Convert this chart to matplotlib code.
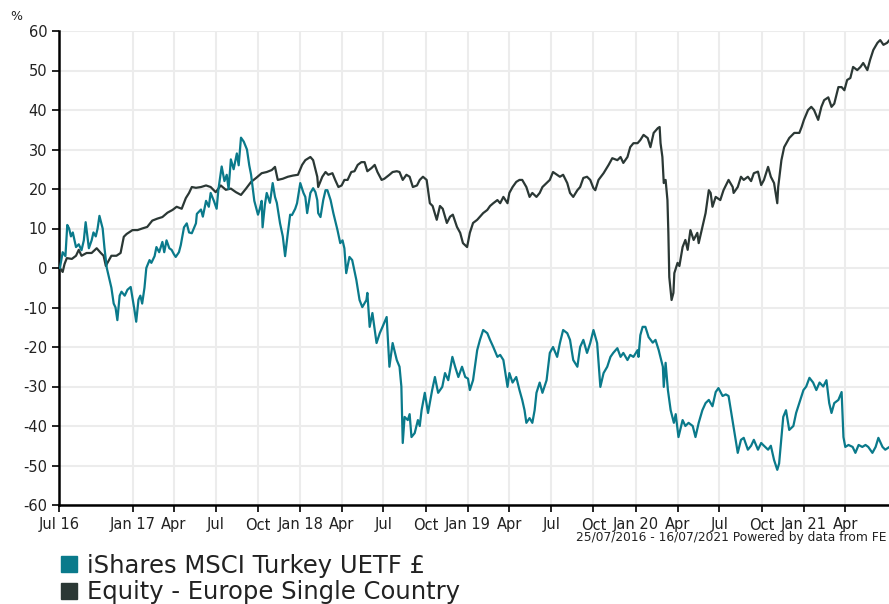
import pandas as pd
import numpy as np
import matplotlib
matplotlib.use('Agg')
import matplotlib.pyplot as plt
from matplotlib.lines import Line2D

plt.rcParams['axes.unicode_minus'] = False

# iShares MSCI Turkey UETF £ (cumulative % change)
turkey_dates = [
    "2016-07-27", "2016-08-02", "2016-08-08", "2016-08-12", "2016-08-16", "2016-08-20", "2016-08-24", "2016-08-31",
    "2016-09-06", "2016-09-12", "2016-09-17", "2016-09-21", "2016-09-28", "2016-10-04", "2016-10-08", "2016-10-13",
    "2016-10-17", "2016-10-21", "2016-10-28", "2016-11-01", "2016-11-06", "2016-11-12", "2016-11-16", "2016-11-21",
    "2016-11-25", "2016-11-29", "2016-12-04", "2016-12-08", "2016-12-15", "2016-12-21", "2016-12-28", "2017-01-03",
    "2017-01-05", "2017-01-09", "2017-01-14", "2017-01-18", "2017-01-22", "2017-01-27", "2017-01-31", "2017-02-07",
    "2017-02-11", "2017-02-18", "2017-02-22", "2017-02-28", "2017-03-07", "2017-03-11", "2017-03-16", "2017-03-22",
    "2017-03-27", "2017-04-01", "2017-04-05", "2017-04-12", "2017-04-16", "2017-04-23", "2017-04-29", "2017-05-04",
    "2017-05-10", "2017-05-19", "2017-05-21", "2017-05-30", "2017-06-03", "2017-06-10", "2017-06-16", "2017-06-20",
    "2017-06-27", "2017-07-03", "2017-07-07", "2017-07-14", "2017-07-20", "2017-07-25", "2017-07-29", "2017-08-03",
    "2017-08-09", "2017-08-16", "2017-08-20", "2017-08-25", "2017-08-31", "2017-09-07", "2017-09-12", "2017-09-16",
    "2017-09-23", "2017-10-01", "2017-10-05", "2017-10-09", "2017-10-11", "2017-10-16", "2017-10-20", "2017-10-27",
    "2017-11-02", "2017-11-07", "2017-11-11", "2017-11-18", "2017-11-24", "2017-11-29", "2017-12-05", "2017-12-10",
    "2017-12-14", "2017-12-21", "2017-12-25", "2018-01-01", "2018-01-08", "2018-01-12", "2018-01-16", "2018-01-23",
    "2018-01-29", "2018-02-03", "2018-02-07", "2018-02-09", "2018-02-14", "2018-02-20", "2018-02-25", "2018-03-01",
    "2018-03-08", "2018-03-14", "2018-03-23", "2018-03-29", "2018-04-03", "2018-04-07", "2018-04-11", "2018-04-18",
    "2018-04-24", "2018-05-03", "2018-05-10", "2018-05-16", "2018-05-25", "2018-05-27", "2018-06-01", "2018-06-07",
    "2018-06-16", "2018-06-23", "2018-06-29", "2018-07-08", "2018-07-14", "2018-07-21", "2018-07-30", "2018-08-05",
    "2018-08-09", "2018-08-12", "2018-08-16", "2018-08-23", "2018-08-27", "2018-08-31", "2018-09-07", "2018-09-14",
    "2018-09-18", "2018-09-22", "2018-09-29", "2018-10-06", "2018-10-15", "2018-10-21", "2018-10-28", "2018-11-06",
    "2018-11-12", "2018-11-19", "2018-11-28", "2018-12-04", "2018-12-11", "2018-12-19", "2018-12-26", "2019-01-01",
    "2019-01-05", "2019-01-12", "2019-01-21", "2019-01-27", "2019-02-03", "2019-02-12", "2019-02-18", "2019-02-25",
    "2019-03-06", "2019-03-12", "2019-03-19", "2019-03-28", "2019-04-01", "2019-04-08", "2019-04-16", "2019-04-23",
    "2019-04-29", "2019-05-04", "2019-05-08", "2019-05-15", "2019-05-21", "2019-05-26", "2019-05-30", "2019-06-06",
    "2019-06-12", "2019-06-21", "2019-06-28", "2019-07-05", "2019-07-14", "2019-07-20", "2019-07-27", "2019-08-05",
    "2019-08-11", "2019-08-18", "2019-08-27", "2019-09-02", "2019-09-09", "2019-09-17", "2019-09-24", "2019-10-01",
    "2019-10-09", "2019-10-16", "2019-10-23", "2019-10-31", "2019-11-07", "2019-11-13", "2019-11-22", "2019-11-29",
    "2019-12-05", "2019-12-14", "2019-12-20", "2019-12-27", "2020-01-05", "2020-01-07", "2020-01-11", "2020-01-16",
    "2020-01-22", "2020-01-29", "2020-02-07", "2020-02-13", "2020-02-20", "2020-02-29", "2020-03-02", "2020-03-06",
    "2020-03-11", "2020-03-17", "2020-03-24", "2020-03-28", "2020-04-03", "2020-04-12", "2020-04-18", "2020-04-25",
    "2020-05-04", "2020-05-10", "2020-05-17", "2020-05-25", "2020-06-01", "2020-06-08", "2020-06-16", "2020-06-23",
    "2020-06-29", "2020-07-08", "2020-07-15", "2020-07-21", "2020-07-26", "2020-08-01", "2020-08-06", "2020-08-10",
    "2020-08-17", "2020-08-23", "2020-09-01", "2020-09-08", "2020-09-14", "2020-09-23", "2020-09-30", "2020-10-06",
    "2020-10-15", "2020-10-21", "2020-10-28", "2020-11-04", "2020-11-08", "2020-11-17", "2020-11-23", "2020-11-30",
    "2020-12-09", "2020-12-15", "2020-12-22", "2020-12-31", "2021-01-06", "2021-01-13", "2021-01-21", "2021-01-28",
    "2021-02-04", "2021-02-12", "2021-02-19", "2021-02-25", "2021-03-02", "2021-03-08", "2021-03-17", "2021-03-24",
    "2021-03-28", "2021-04-01", "2021-04-08", "2021-04-17", "2021-04-23", "2021-04-30", "2021-05-08", "2021-05-15",
    "2021-05-21", "2021-05-30", "2021-06-06", "2021-06-12", "2021-06-21", "2021-06-27", "2021-07-06", "2021-07-16",
]
turkey_values = [
    0, 4, 3, 10.9, 10, 8, 9, 5.3,
    6, 4.5, 7, 11.6, 5, 7, 9, 8,
    10, 13.2, 10, 5, 0, -3, -5, -9,
    -10, -13.2, -7, -6, -7, -5.5, -4.8, -9,
    -10.5, -13.6, -8, -7, -9, -5, 0, 2,
    1.3, 3, 5.3, 4, 6.6, 4, 7, 5,
    4.6, 3.5, 2.8, 4, 5.8, 10.3, 11.3, 9,
    8.8, 11.3, 13.7, 14.8, 13, 17, 15.5, 19,
    17, 15, 20, 25.7, 22, 23.6, 20, 27.5,
    25, 29, 26, 33, 32, 30, 26, 23.6,
    17, 13.5, 15, 17, 10.3, 16, 19, 16.5,
    21.5, 18, 16.5, 11.3, 8, 3, 8.9, 13.5,
    13.4, 15, 16.4, 21.5, 19, 18, 13.9, 19,
    20.2, 19.2, 17.2, 13.9, 12.9, 17.2, 19.7, 19.7,
    17.2, 13.9, 9.6, 6.3, 7, 5, -1.3, 2.8,
    2, -3, -8.1, -9.9, -8.1, -6.3, -14.9, -11.4,
    -19, -16.5, -14.9, -12.4, -25, -19, -23.3, -25,
    -30, -44.3, -37.7, -38.5, -37, -42.8, -41.8, -38.5,
    -40, -36, -31.6, -36.7, -30.9, -27.6, -31.6, -30.1,
    -26.6, -28.4, -22.5, -25, -27.6, -25, -27.6, -28,
    -30.9, -28.4, -20.8, -18.2, -15.7, -16.5, -18.2, -20,
    -22.5, -22, -23.3, -30.1, -26.6, -29, -27.6, -30.9,
    -33.4, -36, -39.2, -38, -39.2, -36, -31.6, -29,
    -31.6, -28.4, -21.5, -20, -22.5, -19, -15.7, -16.5,
    -18.2, -23.3, -25, -20, -18.2, -21.5, -19, -15.7,
    -19, -30.1, -26.6, -25, -22.5, -21.5, -20.3, -22.5,
    -21.5, -23.3, -22, -22.5, -20.8, -22.5, -17, -14.9,
    -14.9, -17.5, -18.9, -18.2, -20.8, -25, -30.1, -24,
    -30.9, -36, -39.2, -37, -42.8, -38.5, -40, -39.2,
    -40, -42.8, -39.2, -36, -34.2, -33.4, -35, -31.4,
    -30.4, -32.4, -32, -32.4, -36, -40.3, -44, -46.8,
    -43.5, -43, -46, -45, -43.5, -46, -44.3, -45,
    -46, -45, -48.6, -51.1, -49.5, -37.7, -36, -41,
    -40, -36.7, -34.2, -30.9, -30, -27.8, -29, -30.9,
    -29, -30, -28.4, -34.2, -36.7, -34.2, -33.4, -31.4,
    -42.8, -45.3, -44.8, -45.3, -46.8, -44.8, -45.3, -44.8,
    -45.3, -46.8, -45.3, -43, -45.3, -46, -45.3, -45,
]

# Equity - Europe Single Country sector average
sector_dates = [
    "2016-07-27", "2016-08-02", "2016-08-06", "2016-08-11", "2016-08-22", "2016-08-31", "2016-09-06", "2016-09-12",
    "2016-09-23", "2016-10-04", "2016-10-15", "2016-10-24", "2016-10-30", "2016-11-04", "2016-11-06", "2016-11-16",
    "2016-11-27", "2016-12-06", "2016-12-13", "2016-12-19", "2017-01-01", "2017-01-12", "2017-01-22", "2017-02-02",
    "2017-02-13", "2017-02-24", "2017-03-07", "2017-03-18", "2017-03-29", "2017-04-07", "2017-04-18", "2017-04-27",
    "2017-05-04", "2017-05-10", "2017-05-19", "2017-05-30", "2017-06-10", "2017-06-20", "2017-07-01", "2017-07-12",
    "2017-07-23", "2017-08-03", "2017-08-14", "2017-08-25", "2017-09-05", "2017-09-16", "2017-09-27", "2017-10-09",
    "2017-10-20", "2017-10-31", "2017-11-07", "2017-11-13", "2017-11-24", "2017-12-05", "2017-12-16", "2017-12-27",
    "2018-01-05", "2018-01-12", "2018-01-23", "2018-01-29", "2018-02-07", "2018-02-09", "2018-02-18", "2018-02-25",
    "2018-03-03", "2018-03-12", "2018-03-18", "2018-03-25", "2018-04-01", "2018-04-07", "2018-04-14", "2018-04-22",
    "2018-04-29", "2018-05-06", "2018-05-14", "2018-05-21", "2018-05-27", "2018-06-05", "2018-06-12", "2018-06-18",
    "2018-06-27", "2018-07-03", "2018-07-14", "2018-07-21", "2018-07-30", "2018-08-05", "2018-08-12", "2018-08-20",
    "2018-08-27", "2018-09-03", "2018-09-12", "2018-09-18", "2018-09-25", "2018-10-03", "2018-10-10", "2018-10-16",
    "2018-10-25", "2018-11-01", "2018-11-07", "2018-11-16", "2018-11-23", "2018-11-29", "2018-12-08", "2018-12-15",
    "2018-12-21", "2018-12-30", "2019-01-05", "2019-01-12", "2019-01-21", "2019-01-27", "2019-02-03", "2019-02-12",
    "2019-02-18", "2019-02-25", "2019-03-06", "2019-03-12", "2019-03-19", "2019-03-28", "2019-04-01", "2019-04-08",
    "2019-04-16", "2019-04-23", "2019-04-29", "2019-05-08", "2019-05-15", "2019-05-21", "2019-05-30", "2019-06-06",
    "2019-06-12", "2019-06-21", "2019-06-28", "2019-07-05", "2019-07-14", "2019-07-20", "2019-07-27", "2019-08-05",
    "2019-08-11", "2019-08-18", "2019-08-27", "2019-09-02", "2019-09-09", "2019-09-17", "2019-09-24", "2019-10-01",
    "2019-10-05", "2019-10-12", "2019-10-23", "2019-11-03", "2019-11-11", "2019-11-22", "2019-11-29", "2019-12-05",
    "2019-12-14", "2019-12-20", "2019-12-27", "2020-01-05", "2020-01-11", "2020-01-18", "2020-01-27", "2020-02-02",
    "2020-02-09", "2020-02-18", "2020-02-22", "2020-02-24", "2020-02-28", "2020-03-02", "2020-03-06", "2020-03-10",
    "2020-03-12", "2020-03-14", "2020-03-19", "2020-03-23", "2020-03-25", "2020-04-01", "2020-04-05", "2020-04-12",
    "2020-04-18", "2020-04-23", "2020-04-29", "2020-05-06", "2020-05-14", "2020-05-17", "2020-05-25", "2020-06-01",
    "2020-06-08", "2020-06-12", "2020-06-16", "2020-06-23", "2020-07-03", "2020-07-10", "2020-07-21", "2020-07-30",
    "2020-08-01", "2020-08-10", "2020-08-17", "2020-08-23", "2020-09-01", "2020-09-08", "2020-09-14", "2020-09-23",
    "2020-09-30", "2020-10-06", "2020-10-15", "2020-10-21", "2020-10-28", "2020-11-04", "2020-11-06", "2020-11-13",
    "2020-11-19", "2020-11-30", "2020-12-11", "2020-12-22", "2020-12-27", "2021-01-01", "2021-01-10", "2021-01-17",
    "2021-01-23", "2021-02-01", "2021-02-08", "2021-02-14", "2021-02-23", "2021-03-02", "2021-03-08", "2021-03-17",
    "2021-03-24", "2021-03-30", "2021-04-05", "2021-04-12", "2021-04-18", "2021-04-27", "2021-05-04", "2021-05-10",
    "2021-05-19", "2021-05-25", "2021-06-01", "2021-06-10", "2021-06-16", "2021-06-23", "2021-07-01", "2021-07-06",
    "2021-07-16",
]
sector_values = [
    0, -1, 1, 2.5, 2.3, 3.1, 4.6, 3.1,
    3.8, 3.8, 5, 3.8, 3.1, 0.5, 1, 3.1,
    3.1, 3.8, 7.9, 8.6, 9.6, 9.6, 10, 10.4,
    12, 12.5, 12.9, 14, 14.7, 15.5, 15, 17.7,
    19, 20.5, 20.3, 20.5, 20.9, 20.5, 19.2, 20.9,
    19.8, 20.1, 19.2, 18.5, 20.1, 21.8, 22.8, 24,
    24.3, 24.8, 25.6, 22.3, 22.6, 23.1, 23.4, 23.6,
    26.1, 27.3, 28.1, 27.3, 23.1, 20.5, 23.1, 24.3,
    23.6, 24, 22.3, 20.5, 20.9, 22.3, 22.3, 24.3,
    24.5, 26.1, 26.8, 26.8, 24.5, 25.3, 26.1, 24.3,
    22.3, 22.6, 23.6, 24.3, 24.5, 24.3, 22.3, 23.6,
    23.1, 20.5, 20.9, 22.3, 23.1, 22.3, 16.4, 15.7,
    12.2, 15.7, 15, 11.4, 13, 13.5, 10.4, 8.9,
    6.3, 5.3, 8.9, 11.4, 12.2, 13, 13.9, 14.7,
    15.7, 16.4, 17.2, 16.4, 18, 16.4, 19, 20.5,
    21.8, 22.3, 22.3, 20.5, 18, 19, 18, 19,
    20.5, 21.5, 22.3, 24.3, 23.6, 23.1, 23.6, 21.5,
    19, 18, 19.7, 20.5, 22.8, 23.1, 22.3, 20.2,
    19.7, 22.3, 24, 26.1, 27.8, 27.3, 28.1, 26.6,
    28.1, 30.6, 31.6, 31.6, 32.4, 33.7, 32.9, 30.6,
    34.2, 35.4, 35.7, 31.6, 28.1, 21.5, 22.3, 17.2,
    8.9, -2.3, -8.1, -6.3, -1.3, 1.3, 0.5, 5.3,
    7.1, 4.6, 9.6, 7.1, 8.9, 6.3, 10.4, 13.9,
    19.7, 19, 15.5, 18, 17.2, 19.7, 22.3, 20.5,
    19, 20.5, 23.1, 22.3, 23.1, 22, 24, 24.4,
    21, 22.3, 25.6, 23.1, 21.5, 16.4, 20.5, 27.3,
    30.6, 32.9, 34.2, 34.2, 35.7, 37.5, 40, 40.8,
    40, 37.5, 40.8, 42.5, 43.2, 40.8, 41.6, 45.8,
    45.8, 45, 47.6, 48.1, 50.9, 50.1, 50.9, 51.9,
    50.1, 52.7, 55.2, 57, 57.7, 56.5, 57, 57.7,
    58,
]

series_names = ["iShares MSCI Turkey UETF £", "Equity - Europe Single Country"]
series_colors = ["#0a7a8b", "#2b3835"]

tick_dates = ["2016-07-25", "2017-01-01", "2017-04-01", "2017-07-01", "2017-10-01",
              "2018-01-01", "2018-04-01", "2018-07-01", "2018-10-01", "2019-01-01",
              "2019-04-01", "2019-07-01", "2019-10-01", "2020-01-01", "2020-04-01",
              "2020-07-01", "2020-10-01", "2021-01-01", "2021-04-01"]
tick_labels = ["Jul 16", "Jan 17", "Apr", "Jul", "Oct", "Jan 18", "Apr", "Jul", "Oct",
               "Jan 19", "Apr", "Jul", "Oct", "Jan 20", "Apr", "Jul", "Oct", "Jan 21", "Apr"]

assert len(turkey_dates) == len(turkey_values)
assert len(sector_dates) == len(sector_values)

fig = plt.figure(figsize=(8.89, 6.04), dpi=100)
ax = fig.add_axes([59 / 889, 1 - 505 / 604, (894 - 59) / 889, (505 - 31) / 604])

ax.plot(pd.to_datetime(sector_dates), sector_values, color=series_colors[1], lw=1.6, zorder=3)
ax.plot(pd.to_datetime(turkey_dates), turkey_values, color=series_colors[0], lw=1.6, zorder=4)

ax.set_xlim(pd.Timestamp("2016-07-25"), pd.Timestamp("2021-07-16"))
ax.set_ylim(-60, 60)
ax.set_yticks(np.arange(-60, 61, 10))
ax.set_xticks(pd.to_datetime(tick_dates))
ax.set_xticklabels(tick_labels)

ax.grid(True, color="#ececec", lw=1.5, zorder=0)
for s in ["top", "right"]:
    ax.spines[s].set_visible(False)
for s in ["left", "bottom"]:
    ax.spines[s].set_color("black")
    ax.spines[s].set_linewidth(1.8)
ax.tick_params(direction="out", length=5, width=1.2, colors="black", labelsize=10.5,
               labelcolor="#222222")
ax.tick_params(axis="x", pad=4)

fig.text(10 / 889, 1 - 16 / 604, "%", fontsize=9, color="#222222", va="center")
fig.text(887 / 889, 1 - 538 / 604, "25/07/2016 - 16/07/2021 Powered by data from FE",
         ha="right", va="center", fontsize=8.8, color="#222222")

handles = [Line2D([], [], marker="s", ls="", color=c, markersize=12) for c in series_colors]
fig.legend(handles, series_names, loc="upper left", bbox_to_anchor=(58 / 889, 1 - 554 / 604),
           frameon=False, fontsize=17.5, handletextpad=0.3, labelspacing=0.1,
           handlelength=0.9, borderaxespad=0, borderpad=0, labelcolor="#222222")

fig.savefig("out.png", dpi=100)
